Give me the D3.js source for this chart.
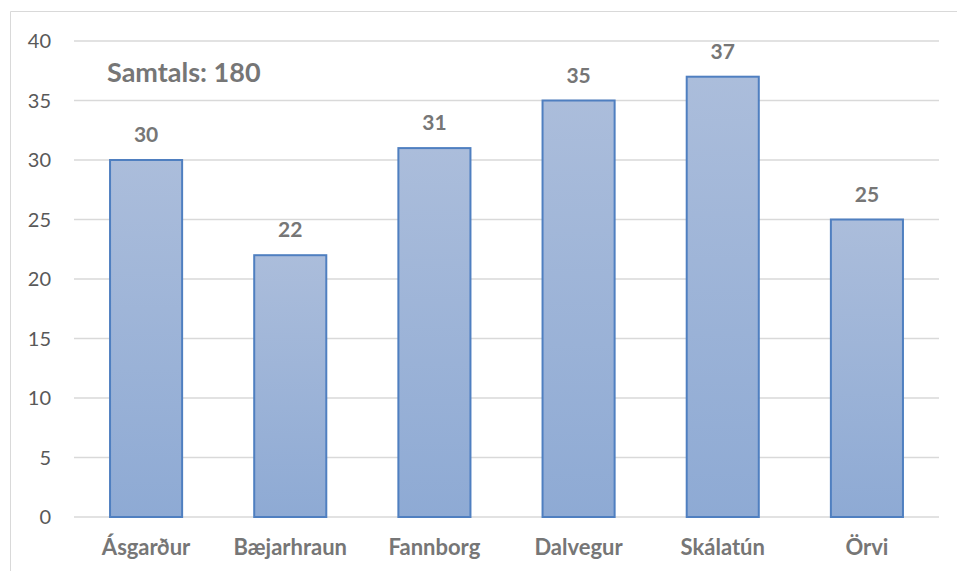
<!DOCTYPE html>
<html>
<head>
<meta charset="utf-8">
<script src="https://cdn.jsdelivr.net/npm/d3@7"></script>
<style>
  body { margin: 0; background: #fff; }
  svg { display: block; font-family: Lato, "Open Sans", sans-serif; }
</style>
</head>
<body>
<div id="chart"></div>
<script>
const categories = ["Ásgarður", "Bæjarhraun", "Fannborg", "Dalvegur", "Skálatún", "Örvi"];
const values = [30, 22, 31, 35, 37, 25];
const yTicks = [0, 5, 10, 15, 20, 25, 30, 35, 40];
const totalLabel = "Samtals: " + d3.sum(values);

const W = 957, H = 571;
const margin = {top: 41, right: 18, bottom: 54, left: 74},
    width = W - margin.left - margin.right,
    height = H - margin.top - margin.bottom;

const svg = d3.select("#chart").append("svg")
    .attr("width", W)
    .attr("height", H);

// gradient for the bars
const grad = svg.append("defs").append("linearGradient")
    .attr("id", "barGrad")
    .attr("x1", 0).attr("y1", 0).attr("x2", 0).attr("y2", 1);
grad.append("stop").attr("offset", "0%").attr("stop-color", "#abbddb");
grad.append("stop").attr("offset", "100%").attr("stop-color", "#8eaad4");

// chart frame (partly cropped)
svg.append("path")
    .attr("d", "M10.5," + H + "V11.5H" + W)
    .attr("fill", "none")
    .attr("stroke", "#d9d9d9")
    .attr("stroke-width", 1);

const g = svg.append("g")
    .attr("transform", "translate(" + margin.left + "," + margin.top + ")");

const x = d3.scaleBand()
    .domain(categories)
    .range([0, width])
    .paddingInner(0.5)
    .paddingOuter(0.25);

const y = d3.scaleLinear()
    .domain([0, 40])
    .range([height, 0]);

// gridlines
g.append("g")
    .selectAll("line")
    .data(yTicks)
    .enter().append("line")
    .attr("x1", 0)
    .attr("x2", width)
    .attr("y1", d => y(d))
    .attr("y2", d => y(d))
    .attr("stroke", "#d9d9d9")
    .attr("stroke-width", 1.5);

// y tick labels
g.append("g")
    .selectAll("text")
    .data(yTicks)
    .enter().append("text")
    .attr("x", -23)
    .attr("y", d => y(d))
    .attr("dy", "0.35em")
    .attr("text-anchor", "end")
    .attr("font-size", 20)
    .attr("fill", "#595959")
    .text(d => d);

// bars
g.append("g")
    .selectAll("rect")
    .data(values)
    .enter().append("rect")
    .attr("x", (d, i) => x(categories[i]))
    .attr("y", d => y(d))
    .attr("width", x.bandwidth())
    .attr("height", d => height - y(d))
    .attr("fill", "url(#barGrad)")
    .attr("stroke", "#4f7fc0")
    .attr("stroke-width", 2);

// value labels
g.append("g")
    .selectAll("text")
    .data(values)
    .enter().append("text")
    .attr("x", (d, i) => x(categories[i]) + x.bandwidth() / 2)
    .attr("y", d => y(d) - 18)
    .attr("text-anchor", "middle")
    .attr("font-size", 21)
    .attr("font-weight", "bold")
    .attr("fill", "#767676")
    .text(d => d);

// category labels
g.append("g")
    .selectAll("text")
    .data(categories)
    .enter().append("text")
    .attr("x", d => x(d) + x.bandwidth() / 2)
    .attr("y", height + 38)
    .attr("text-anchor", "middle")
    .attr("font-size", 22)
    .attr("font-weight", "bold")
    .attr("fill", "#767676")
    .text(d => d);

// total
svg.append("text")
    .attr("x", 107)
    .attr("y", 82)
    .attr("font-size", 27)
    .attr("font-weight", "bold")
    .attr("fill", "#767676")
    .text(totalLabel);
</script>
</body>
</html>
